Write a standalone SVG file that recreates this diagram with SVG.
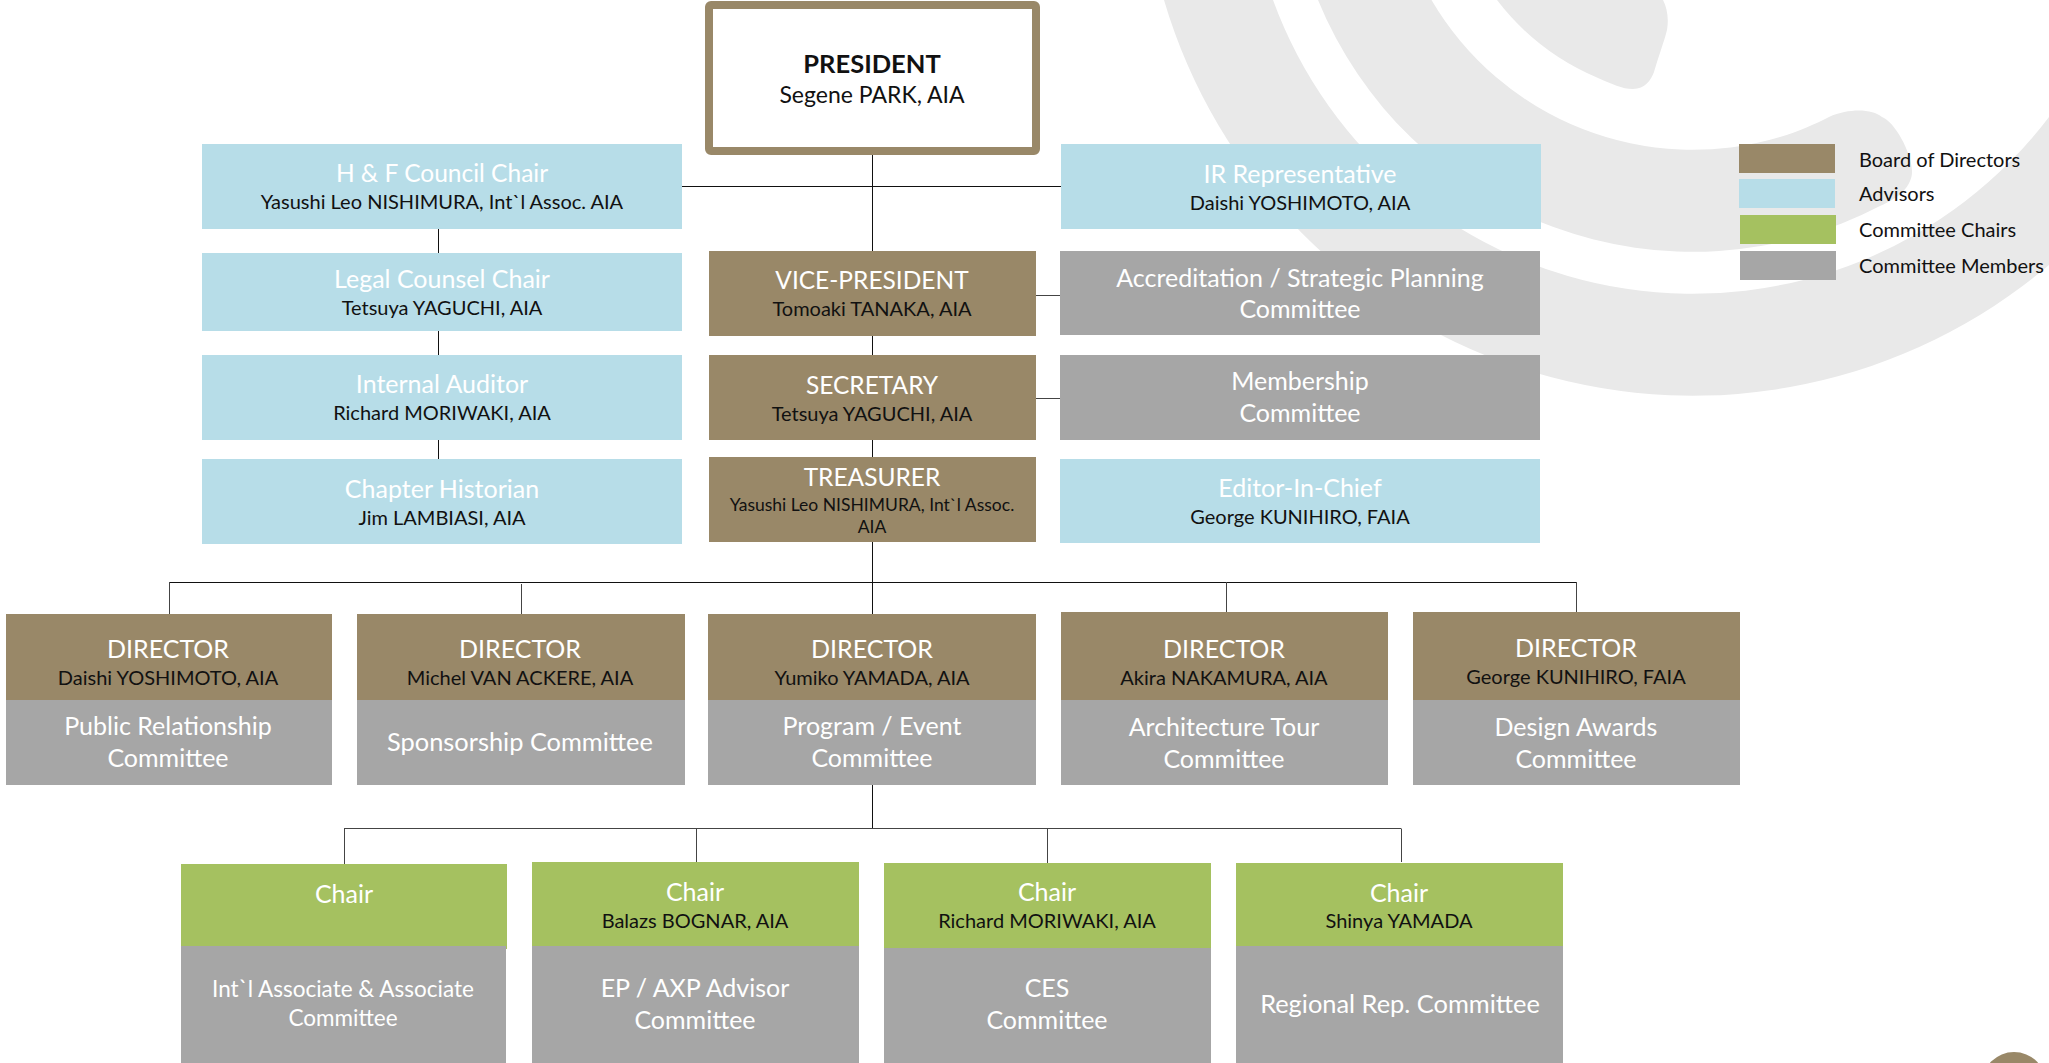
<svg xmlns="http://www.w3.org/2000/svg" width="2049" height="1063" viewBox="0 0 2049 1063">
<style>
text{font-family:"Lato","Liberation Sans",sans-serif;text-anchor:middle}
.t{font-size:25px;fill:#fff}
.u{font-size:24.500px;fill:#fff}
.w{font-size:25.400px;fill:#fff}
.n{font-size:20px;fill:#111}
.s{font-size:17.500px;fill:#111}
.l{font-size:20px;fill:#111;text-anchor:start}
.m{font-size:22.500px;fill:#fff}
.b{fill:#998868}.a{fill:#b7dde8}.c{fill:#a5c160}.g{fill:#a6a6a6}
.k{stroke:#111;stroke-width:1;fill:none}
.h{stroke:#444;stroke-width:1;fill:none}
</style>
<g id="background" fill="#e9e9e9">
<path d="M1164 0A551 551 0 0 0 2049 265V117A447 447 0 0 1 1273 0Z"/>
<path d="M1318 0A405 405 0 0 0 1880 206C1900 198 1913 185 1912 170C1911 152 1895 122 1882 117C1872 109 1850 108 1829 117C1815 124 1798 132 1780 137A303 303 0 0 1 1431.500 0Z"/>
<path d="M1497 0A249 249 0 0 0 1598 78C1612 84 1622 89 1633 89C1645 89 1651 80 1654 72C1658 58 1664 42 1667 30C1669 18 1667 8 1663 0Z"/>
</g>
<circle cx="2014" cy="1084" r="32" fill="#998868"/>
<g id="connectors">
<path class="k" d="M872.500 154V251M682 186.500H1061M438.500 229V253M438.500 331V355M438.500 440V459M872.500 336V355M872.500 440V457M872.500 542V614M169 582.500H1576M872.500 785V829"/>
<path class="h" d="M1036 295.500H1060M1036 398.500H1060M169.500 582V614M521.500 584V614M1226.500 582V612M1576.500 582V612M344 828.500H1401M344.500 828.500V864M696.500 828.500V862M1047.500 828.500V863M1401.500 828.500V862"/>
</g>
<g id="president"><rect x="709" y="5" width="327" height="146" rx="2" fill="#fff" stroke="#998868" stroke-width="8"/><text x="872" y="73" style="font-size:25.500px;fill:#111;font-weight:700">PRESIDENT</text><text x="872" y="103" style="font-size:23px;fill:#111">Segene PARK, AIA</text></g>
<g id="hf-council"><rect class="a" x="202" y="144" width="480" height="85"/><text class="u" x="442" y="182">H &amp; F Council Chair</text><text class="n" x="442" y="209">Yasushi Leo NISHIMURA, Int`l Assoc. AIA</text></g>
<g id="legal-counsel"><rect class="a" x="202" y="253" width="480" height="78"/><text class="t" x="442" y="288">Legal Counsel Chair</text><text class="n" x="442" y="315">Tetsuya YAGUCHI, AIA</text></g>
<g id="internal-auditor"><rect class="a" x="202" y="355" width="480" height="85"/><text class="t" x="442" y="393">Internal Auditor</text><text class="n" x="442" y="420">Richard MORIWAKI, AIA</text></g>
<g id="chapter-historian"><rect class="a" x="202" y="459" width="480" height="85"/><text class="t" x="442" y="498">Chapter Historian</text><text class="n" x="442" y="525">Jim LAMBIASI, AIA</text></g>
<g id="vice-president"><rect class="b" x="709" y="251" width="327" height="85"/><text class="u" x="872" y="289">VICE-PRESIDENT</text><text class="n" x="872" y="316">Tomoaki TANAKA, AIA</text></g>
<g id="secretary"><rect class="b" x="709" y="355" width="327" height="85"/><text class="u" x="872" y="394">SECRETARY</text><text class="n" x="872" y="421">Tetsuya YAGUCHI, AIA</text></g>
<g id="treasurer"><rect class="b" x="709" y="457" width="327" height="85"/><text class="u" x="872" y="486">TREASURER</text><text class="s" x="872" y="511">Yasushi Leo NISHIMURA, Int`l Assoc.</text><text class="s" x="872" y="533">AIA</text></g>
<g id="ir-representative"><rect class="a" x="1061" y="144" width="480" height="85"/><text class="t" x="1300" y="183">IR Representative</text><text class="n" x="1300" y="210">Daishi YOSHIMOTO, AIA</text></g>
<g id="accreditation"><rect class="g" x="1060" y="251" width="480" height="84"/><text class="t" x="1300" y="287">Accreditation / Strategic Planning</text><text class="t" x="1300" y="318">Committee</text></g>
<g id="membership"><rect class="g" x="1060" y="355" width="480" height="85"/><text class="t" x="1300" y="390">Membership</text><text class="t" x="1300" y="422">Committee</text></g>
<g id="editor"><rect class="a" x="1060" y="459" width="480" height="84"/><text class="t" x="1300" y="497">Editor-In-Chief</text><text class="n" x="1300" y="524">George KUNIHIRO, FAIA</text></g>
<g id="director-1"><rect class="b" x="6" y="614" width="326" height="86"/><rect class="g" x="6" y="700" width="326" height="85"/><text class="t" x="168" y="658">DIRECTOR</text><text class="n" x="168" y="685">Daishi YOSHIMOTO, AIA</text><text class="t" x="168" y="735">Public Relationship</text><text class="t" x="168" y="767">Committee</text></g>
<g id="director-2"><rect class="b" x="357" y="614" width="328" height="86"/><rect class="g" x="357" y="700" width="328" height="85"/><text class="t" x="520" y="658">DIRECTOR</text><text class="n" x="520" y="685">Michel VAN ACKERE, AIA</text><text class="w" x="520" y="751">Sponsorship Committee</text></g>
<g id="director-3"><rect class="b" x="708" y="614" width="328" height="86"/><rect class="g" x="708" y="700" width="328" height="85"/><text class="t" x="872" y="658">DIRECTOR</text><text class="n" x="872" y="685">Yumiko YAMADA, AIA</text><text class="t" x="872" y="735">Program / Event</text><text class="t" x="872" y="767">Committee</text></g>
<g id="director-4"><rect class="b" x="1061" y="612" width="327" height="88"/><rect class="g" x="1061" y="700" width="327" height="85"/><text class="t" x="1224" y="658">DIRECTOR</text><text class="n" x="1224" y="685">Akira NAKAMURA, AIA</text><text class="t" x="1224" y="736">Architecture Tour</text><text class="t" x="1224" y="768">Committee</text></g>
<g id="director-5"><rect class="b" x="1413" y="612" width="327" height="88"/><rect class="g" x="1413" y="700" width="327" height="85"/><text class="t" x="1576" y="657">DIRECTOR</text><text class="n" x="1576" y="684">George KUNIHIRO, FAIA</text><text class="t" x="1576" y="736">Design Awards</text><text class="t" x="1576" y="768">Committee</text></g>
<g id="chair-1"><rect class="c" x="181" y="864" width="326" height="85"/><rect class="g" x="181" y="946" width="325" height="117"/><text class="t" x="344" y="903">Chair</text><text class="m" x="343" y="997">Int`l Associate &amp; Associate</text><text class="m" x="343" y="1026">Committee</text></g>
<g id="chair-2"><rect class="c" x="532" y="862" width="327" height="84"/><rect class="g" x="532" y="946" width="327" height="117"/><text class="t" x="695" y="901">Chair</text><text class="n" x="695" y="928">Balazs BOGNAR, AIA</text><text class="t" x="695" y="997">EP / AXP Advisor</text><text class="t" x="695" y="1029">Committee</text></g>
<g id="chair-3"><rect class="c" x="884" y="863" width="327" height="85"/><rect class="g" x="884" y="948" width="327" height="115"/><text class="t" x="1047" y="901">Chair</text><text class="n" x="1047" y="928">Richard MORIWAKI, AIA</text><text class="t" x="1047" y="997">CES</text><text class="t" x="1047" y="1029">Committee</text></g>
<g id="chair-4"><rect class="c" x="1236" y="863" width="327" height="83"/><rect class="g" x="1236" y="946" width="327" height="117"/><text class="t" x="1399" y="902">Chair</text><text class="n" x="1399" y="928">Shinya YAMADA</text><text class="w" x="1400" y="1013">Regional Rep. Committee</text></g>
<g id="legend"><rect class="b" x="1739" y="144" width="96" height="29"/><rect class="a" x="1739" y="179" width="96" height="29"/><rect class="c" x="1740" y="215" width="96" height="29"/><rect class="g" x="1740" y="251" width="96" height="29"/><text class="l" x="1859" y="167">Board of Directors</text><text class="l" x="1859" y="201">Advisors</text><text class="l" x="1859" y="237">Committee Chairs</text><text class="l" x="1859" y="273">Committee Members</text></g>
</svg>
